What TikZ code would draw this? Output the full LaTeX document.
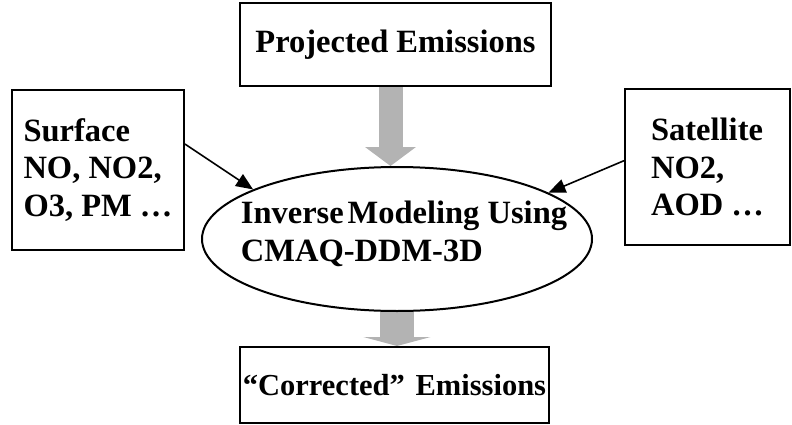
\documentclass[tikz,border=0pt]{standalone}
\usepackage{fontspec}
\setmainfont{Liberation Serif}
\usetikzlibrary{arrows.meta,shapes.geometric,calc,backgrounds}
\definecolor{arrowgray}{RGB}{179,179,179}
\begin{document}
\begin{tikzpicture}[x=1pt,y=-1pt,
  txt/.style={font=\fontsize{32.5}{37.5}\selectfont\bfseries},
  box/.style={draw,line width=2pt,rectangle,inner sep=0pt,txt},
  blk/.style={draw,line width=1.6pt,-{Triangle[length=17pt,width=14pt]}}]
\useasboundingbox (0,0) rectangle (792,425);

% boxes and the central ellipse
\node[box, minimum width=311pt, minimum height=83pt] (proj) at (395.5,44.5) {Projected Emissions};
\node[box, align=left, minimum width=172pt, minimum height=160pt] (surf) at (98,170)
  {Surface\\NO, NO2,\\O3, PM …};
\node[box, align=left, minimum width=165pt, minimum height=156pt] (sat) at (707.5,167)
  {Satellite\\NO2,\\AOD …};
\node[draw, ellipse, line width=2pt, minimum width=390pt, minimum height=144pt,
  inner sep=0pt] (inv) at (397,239) {};
\node[txt, align=left, inner sep=0pt] (invtext) at (404,234)
  {Inverse\hspace{0.12em}Modeling Using\\CMAQ-DDM-3D};
\node[box, minimum width=309pt, minimum height=76pt,
  font=\fontsize{30.5}{36}\selectfont\bfseries] (corr) at (394.5,385)
  {\makebox[0pt]{“Corrected”\hspace{0.35em}Emissions}};

% wide grey flow arrows, behind the outlines
\begin{pgfonlayer}{background}
  \draw[line width=24pt, arrowgray, -{Triangle[length=19pt,width=50pt]}]
    ([xshift=-5pt]proj.south) -- ([xshift=-5pt]proj.south |- inv.north);
  \draw[line width=34pt, arrowgray, -{Triangle[length=9pt,width=67pt]}]
    (inv.south) -- (inv.south |- corr.north);
\end{pgfonlayer}

% observation inputs
\draw[blk] ($(surf.north east)!0.34!(surf.south east)$) -- (inv.161);
\draw[blk] ($(sat.north west)!0.46!(sat.south west)$) -- (inv.17);
\end{tikzpicture}
\end{document}
